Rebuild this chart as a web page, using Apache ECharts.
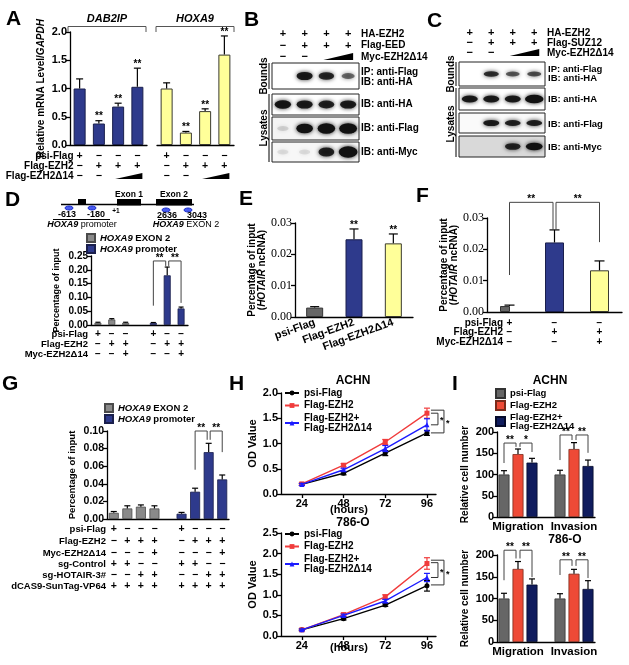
<!DOCTYPE html>
<html><head><meta charset="utf-8">
<script src="https://cdn.jsdelivr.net/npm/echarts@6/dist/echarts.min.js"></script>
<style>html,body{margin:0;padding:0;background:#fff}#c{width:629px;height:665px}</style>
</head><body><div id="c"></div>
<script>
// ================= DATA =================
// Panel A
const aGroups = ['DAB2IP', 'HOXA9'];
const aConds = ['psi', 'EZH2', 'EZH2+d14 low', 'EZH2+d14 high'];
const aDab2ip = [1.00, 0.38, 0.68, 1.03];
const aDab2ipErr = [0.17, 0.05, 0.06, 0.33];
const aHoxa9 = [1.00, 0.22, 0.60, 1.60];
const aHoxa9Err = [0.10, 0.02, 0.04, 0.33];
const aStars = ['', '**', '**', '**'];
const aRowNames = ['psi-Flag', 'Flag-EZH2', 'Flag-EZH2\u039414'];
const aRows = [['+','\u2212','\u2212','\u2212'], ['\u2212','+','+','+'], ['\u2212','\u2212','W','W']];
// Panel B (band intensities, lanes 1-4)
const lanes = ['1','2','3','4'];
const bHeaderNames = ['HA-EZH2', 'Flag-EED', 'Myc-EZH2\u039414'];
const bHeader = [['+','+','+','+'], ['\u2212','+','+','+'], ['\u2212','\u2212','W','W']];
const bBounds = [0, 0.85, 0.75, 0.35];
const bHA = [0.9, 0.85, 0.8, 0.85];
const bFlag = [0.04, 0.95, 1.1, 1.15];
const bMyc = [0.03, 0.03, 0.8, 1.3];
// Panel C
const cHeaderNames = ['HA-EZH2', 'Flag-SUZ12', 'Myc-EZH2\u039414'];
const cHeader = [['+','+','+','+'], ['\u2212','+','+','+'], ['\u2212','\u2212','W','W']];
const cBounds = [0, 0.7, 0.45, 0.5];
const cHA = [0.85, 0.85, 0.85, 1.25];
const cFlag = [0, 0.85, 0.8, 0.8];
const cMyc = [0, 0, 0.75, 0.95];
// Panel D
const dLegend = ['HOXA9 EXON 2', 'HOXA9 promoter'];
const dExon2 = [0.008, 0.020, 0.008];
const dExon2Err = [0.002, 0.003, 0.002];
const dPromoter = [0.008, 0.180, 0.060];
const dPromoterErr = [0.001, 0.030, 0.005];
const dRowNames = ['psi-Flag', 'Flag-EZH2', 'Myc-EZH2\u039414'];
const dRows = [['+','\u2212','\u2212','+','\u2212','\u2212'], ['\u2212','+','+','\u2212','+','+'], ['\u2212','\u2212','+','\u2212','\u2212','+']];
// Panel E
const eCats = ['psi-Flag', 'Flag-EZH2', 'Flag-EZH2\u039414'];
const eVals = [0.0030, 0.0248, 0.0235];
const eErr = [0.0003, 0.0033, 0.0030];
const eStars = ['', '**', '**'];
// Panel F
const fCats = ['psi-Flag', 'Flag-EZH2', 'Flag-EZH2+Myc-EZH2\u039414'];
const fVals = [0.0019, 0.0222, 0.0133];
const fErr = [0.0003, 0.0040, 0.0030];
const fRowNames = ['psi-Flag', 'Flag-EZH2', 'Myc-EZH2\u039414'];
const fRows = [['+','\u2212','\u2212'], ['\u2212','+','+'], ['\u2212','\u2212','+']];
// Panel G
const gLegend = ['HOXA9 EXON 2', 'HOXA9 promoter'];
const gExon2 = [0.007, 0.012, 0.014, 0.012];
const gExon2Err = [0.0015, 0.003, 0.002, 0.003];
const gPromoter = [0.006, 0.031, 0.076, 0.045];
const gPromoterErr = [0.0015, 0.004, 0.010, 0.005];
const gRowNames = ['psi-Flag', 'Flag-EZH2', 'Myc-EZH2\u039414', 'sg-Control', 'sg-HOTAIR-3#', 'dCAS9-SunTag-VP64'];
const gRows = [
  ['+','\u2212','\u2212','\u2212','+','\u2212','\u2212','\u2212'],
  ['\u2212','+','+','+','\u2212','+','+','+'],
  ['\u2212','\u2212','\u2212','+','\u2212','\u2212','\u2212','+'],
  ['+','+','\u2212','\u2212','+','+','\u2212','\u2212'],
  ['\u2212','\u2212','+','+','\u2212','\u2212','+','+'],
  ['+','+','+','+','+','+','+','+']];
// Panel H
const hHours = [24, 48, 72, 96];
const hNames = ['psi-Flag', 'Flag-EZH2', 'Flag-EZH2+\nFlag-EZH2\u039414'];
const hAchnPsi = [0.19, 0.41, 0.81, 1.21];
const hAchnPsiErr = [0.02, 0.03, 0.05, 0.05];
const hAchnEzh2 = [0.20, 0.57, 1.03, 1.60];
const hAchnEzh2Err = [0.02, 0.03, 0.05, 0.10];
const hAchnCombo = [0.19, 0.48, 0.90, 1.37];
const hAchnComboErr = [0.02, 0.03, 0.06, 0.12];
const h786Psi = [0.15, 0.42, 0.75, 1.22];
const h786PsiErr = [0.02, 0.03, 0.03, 0.13];
const h786Ezh2 = [0.15, 0.52, 0.95, 1.76];
const h786Ezh2Err = [0.02, 0.03, 0.05, 0.14];
const h786Combo = [0.15, 0.50, 0.85, 1.42];
const h786ComboErr = [0.02, 0.03, 0.04, 0.10];
// Panel I
const iGroups = ['Migration', 'Invasion'];
const iNames = ['psi-Flag', 'Flag-EZH2', 'Flag-EZH2+\nFlag-EZH2\u039414'];
const iAchnPsi = [100, 100], iAchnPsiErr = [9, 10];
const iAchnEzh2 = [148, 160], iAchnEzh2Err = [12, 15];
const iAchnCombo = [128, 120], iAchnComboErr = [10, 14];
const i786Psi = [100, 100], i786PsiErr = [12, 11];
const i786Ezh2 = [168, 157], i786Ezh2Err = [17, 10];
const i786Combo = [132, 122], i786ComboErr = [13, 19];

// ================= STYLE =================
const FONT = '"Liberation Sans", Arial, Helvetica, sans-serif';
const SERIF = '"Liberation Serif", "Times New Roman", serif';
const NAVY = '#2e3a8c', NAVY_E = '#1a1f4c';
const YEL = '#ffff99', YEL_E = '#3a3a30';
const GRAY = '#8a8a8a', GRAY_E = '#4a4a4a';
const DGRAY = '#666666';
const RED = '#ee4a36', INAVY = '#101c5e';
const HBLACK = '#000000', HRED = '#f03c3c', HBLUE = '#1c1cff';
const LS = {color:'#000', width:1.3};
const ITAL = {fontStyle:'italic', fontWeight:'bold', fontFamily:FONT, color:'#000'};

const grids = [], xAxes = [], yAxes = [], series = [], legends = [];
function addPanel(rect, xa, ya) {
  const i = grids.length;
  grids.push(Object.assign({show:false}, rect));
  xa.gridIndex = i; ya.gridIndex = i; xAxes.push(xa); yAxes.push(ya); return i;
}
function yVal(min, max, interval, dec, o) {
  o = o || {};
  return {type:'value', min, max, interval,
    axisLine:{show:true, lineStyle:LS}, axisTick:{show:true, length:4, lineStyle:LS}, splitLine:{show:false},
    axisLabel:{color:'#000', fontFamily:o.family||FONT, fontWeight:o.weight||'bold', fontSize:o.size||11, margin:3, formatter:v=>v.toFixed(dec)},
    name:o.name||'', nameLocation:'middle', nameGap:o.gap||25,
    nameTextStyle:{color:'#000', fontFamily:FONT, fontWeight:'bold', fontSize:o.nsize||11, lineHeight:o.nlh||12,
      rich:{i:Object.assign({fontSize:o.nsize||11}, ITAL)}}};
}
function xCat(cats, label) {
  return {type:'category', data:cats, axisLine:{show:true, lineStyle:LS}, axisTick:{show:false},
    axisLabel:Object.assign({show:false}, label||{}), splitLine:{show:false}};
}
// slot layout for grouped bars with a gap slot between groups
function slotCats(groups, n) { const c=[]; groups.forEach((g,gi)=>{ if(gi) c.push('gap'+gi); for(let k=0;k<n;k++) c.push(g+'#'+k); }); return c; }
function slotOf(g, k, n) { return g*(n+1)+k; }
function slotArr(len, pairs) { const a = new Array(len).fill('-'); pairs.forEach(p=>{a[p[0]]=p[1];}); return a; }

function errSeries(ai, items, o) {
  o = o || {};
  return {type:'custom', xAxisIndex:ai, yAxisIndex:ai, silent:true, clip:false, z:5,
    data: items.map(it=>[it.x, it.v, it.e]),
    renderItem: function(p, api) {
      const it = items[p.dataIndex];
      const c = api.coord([it.x, it.v]), t = api.coord([it.x, it.v+it.e]);
      const b = o.both ? api.coord([it.x, it.v-it.e]) : c;
      const w = (o.cap||6)/2, col = it.color||o.color||'#000', lw = o.lw||1.2;
      const ch = [
        {type:'line', shape:{x1:t[0],y1:t[1],x2:b[0],y2:b[1]}, style:{stroke:col,lineWidth:lw}},
        {type:'line', shape:{x1:t[0]-w,y1:t[1],x2:t[0]+w,y2:t[1]}, style:{stroke:col,lineWidth:lw}}];
      if (o.both) ch.push({type:'line', shape:{x1:b[0]-w,y1:b[1],x2:b[0]+w,y2:b[1]}, style:{stroke:col,lineWidth:lw}});
      if (it.star) ch.push({type:'text', style:{text:it.star, x:t[0], y:t[1]+1, align:'center', verticalAlign:'bottom', textAlign:'center', textVerticalAlign:'bottom', font:'bold 10px '+FONT, fill:'#000'}});
      return {type:'group', children:ch};
    }};
}
function bracketSeries(ai, items) {
  return {type:'custom', xAxisIndex:ai, yAxisIndex:ai, silent:true, clip:false, z:6,
    data: items.map(it=>[it.a, it.top]),
    renderItem: function(p, api) {
      const it = items[p.dataIndex];
      const A = api.coord([it.a, it.top]), B = api.coord([it.b, it.top]);
      const Ad = api.coord([it.a, it.da]), Bd = api.coord([it.b, it.db]);
      const xa = A[0]+(it.sa||0), xb = B[0]+(it.sb||0);
      return {type:'group', children:[
        {type:'polyline', shape:{points:[[xa,Ad[1]],[xa,A[1]],[xb,A[1]],[xb,Bd[1]]]}, style:{stroke:'#444', lineWidth:1, fill:'none'}},
        {type:'text', style:{text:it.text, x:(xa+xb)/2, y:A[1]+2, align:'center', verticalAlign:'bottom', textAlign:'center', textVerticalAlign:'bottom', font:'bold 10px '+FONT, fill:'#000'}}]};
    }};
}
function vBracketSeries(ai, items) {
  return {type:'custom', xAxisIndex:ai, yAxisIndex:ai, silent:true, clip:false, z:6,
    data: items.map(it=>[it.x, it.y1]),
    renderItem: function(p, api) {
      const it = items[p.dataIndex];
      const a = api.coord([it.x, it.y1]), b = api.coord([it.x, it.y2]);
      const x0 = a[0]+it.o0, x1 = a[0]+it.o1;
      return {type:'group', children:[
        {type:'polyline', shape:{points:[[x0,a[1]],[x1,a[1]],[x1,b[1]],[x0,b[1]]]}, style:{stroke:'#333', lineWidth:1, fill:'none'}},
        {type:'text', style:{text:it.text, x:x1+2, y:(a[1]+b[1])/2+2, align:'left', verticalAlign:'middle', textAlign:'left', textVerticalAlign:'middle', font:'bold 9px '+FONT, fill:'#000'}}]};
    }};
}
function blotPanel(rect, bands, bg, bandH) {
  const i = addPanel(Object.assign({borderColor:'#222', borderWidth:1, backgroundColor:bg||'#fff'}, rect),
    {type:'category', data:lanes, show:false, boundaryGap:true}, {type:'value', min:0, max:1, show:false});
  grids[i].show = true;
  series.push({type:'scatter', xAxisIndex:i, yAxisIndex:i, silent:true, symbol:'circle', z:3,
    itemStyle:{color:'#111', shadowBlur:4, shadowColor:'rgba(0,0,0,0.85)'},
    data: bands.map((v,k)=>({value:[k, 0.5], symbolSize:[11+6*Math.min(v,1.3), bandH*(0.55+0.55*v)],
      itemStyle:{opacity: v < 0.1 ? v*3 : Math.min(1, 0.25+0.8*v)}}))});
  return i;
}
const nameFmt = n => n.replace(/^[A-Z0-9]+:/, '');
const legText = (sz, lh) => ({color:'#000', fontFamily:FONT, fontWeight:'bold', fontSize:sz, lineHeight:lh||sz+1,
  rich:{i:Object.assign({fontSize:sz, lineHeight:lh||sz+1}, ITAL)}});

// ================= PANEL A =================
const iA1 = addPanel({left:70, top:32, width:77, height:113}, xCat(aConds),
  yVal(0, 2, 0.5, 1, {name:'Relative mRNA Level/{i|GAPDH}', gap:23, nsize:10}));
const iA2 = addPanel({left:157, top:32, width:77, height:113}, xCat(aConds), Object.assign(yVal(0, 2, 0.5, 1), {show:false}));
series.push({type:'bar', xAxisIndex:iA1, yAxisIndex:iA1, data:aDab2ip, barWidth:12, silent:true,
  itemStyle:{color:NAVY, borderColor:NAVY_E, borderWidth:1}});
series.push(errSeries(iA1, aDab2ip.map((v,k)=>({x:k, v, e:aDab2ipErr[k], star:aStars[k]})), {cap:7}));
series.push({type:'bar', xAxisIndex:iA2, yAxisIndex:iA2, data:aHoxa9, barWidth:12, silent:true,
  itemStyle:{color:YEL, borderColor:YEL_E, borderWidth:1}});
series.push(errSeries(iA2, aHoxa9.map((v,k)=>({x:k, v, e:aHoxa9Err[k], star:aStars[k]})), {cap:7}));

// ================= PANEL B / C (blots) =================
const iB1 = blotPanel({left:272, top:63, width:87, height:26}, bBounds, '#fff', 8);
const iB2 = blotPanel({left:272, top:94, width:87, height:21}, bHA, '#fff', 8);
const iB3 = blotPanel({left:272, top:117, width:87, height:23}, bFlag, '#f4f4f4', 9);
const iB4 = blotPanel({left:272, top:142, width:87, height:20}, bMyc, '#f7f7f7', 9);
const iC1 = blotPanel({left:459, top:62, width:86, height:24}, cBounds, '#fff', 6);
const iC2 = blotPanel({left:459, top:88, width:86, height:22}, cHA, '#fff', 7);
const iC3 = blotPanel({left:459, top:113, width:86, height:20}, cFlag, '#fafafa', 6);
const iC4 = blotPanel({left:459, top:136, width:86, height:21}, cMyc, '#d9d9d9', 7);

// ================= PANEL D =================
const dCats = slotCats(['exon2','promoter'], 3);
const iD = addPanel({left:91, top:256, width:97, height:69}, xCat(dCats),
  yVal(0, 0.25, 0.05, 2, {name:'Percentage of input', gap:28, nsize:9, size:10}));
series.push({type:'bar', name:'D:'+dLegend[0], xAxisIndex:iD, yAxisIndex:iD, barWidth:7, barGap:'-100%', silent:true,
  data: slotArr(dCats.length, dExon2.map((v,k)=>[slotOf(0,k,3), v])), itemStyle:{color:GRAY, borderColor:GRAY_E, borderWidth:0.8}});
series.push({type:'bar', name:'D:'+dLegend[1], xAxisIndex:iD, yAxisIndex:iD, barWidth:7, barGap:'-100%', silent:true,
  data: slotArr(dCats.length, dPromoter.map((v,k)=>[slotOf(1,k,3), v])), itemStyle:{color:NAVY, borderColor:NAVY_E, borderWidth:0.8}});
series.push(errSeries(iD, dExon2.map((v,k)=>({x:slotOf(0,k,3), v, e:dExon2Err[k]})).concat(
  dPromoter.map((v,k)=>({x:slotOf(1,k,3), v, e:dPromoterErr[k]}))), {cap:5}));
series.push(bracketSeries(iD, [
  {a:4, b:5, top:0.232, da:0.07, db:0.214, sb:-1.5, text:'**'},
  {a:5, b:6, top:0.232, da:0.214, db:0.08, sa:1.5, text:'**'}]));
legends.push({data:dLegend.map(n=>'D:'+n), orient:'vertical', left:86, top:233, itemWidth:8, itemHeight:8, itemGap:1,
  icon:'rect', selectedMode:false, padding:0, formatter:n=>'{i|HOXA9} '+nameFmt(n).replace('HOXA9 ',''), textStyle:legText(9.5, 10)});

// ================= PANEL E =================
const iE = addPanel({left:295, top:223, width:118, height:94},
  xCat(eCats, {show:true, interval:0, rotate:20, color:'#000', fontFamily:FONT, fontWeight:'bold', fontSize:11, margin:5}),
  yVal(0, 0.03, 0.01, 2, {family:SERIF, weight:'normal', size:12, name:'Percentage of input\n({i|HOTAIR} ncRNA)', gap:27, nsize:10, nlh:10}));
const eColors = [[DGRAY,'#333'], [NAVY,NAVY_E], [YEL,YEL_E]];
series.push({type:'bar', xAxisIndex:iE, yAxisIndex:iE, barWidth:17, silent:true,
  data: eVals.map((v,k)=>({value:v, itemStyle:{color:eColors[k][0], borderColor:eColors[k][1], borderWidth:1}}))});
series.push(errSeries(iE, eVals.map((v,k)=>({x:k, v, e:eErr[k], star:eStars[k]})), {cap:9}));

// ================= PANEL F =================
const iF = addPanel({left:487, top:218, width:135, height:94}, xCat(fCats),
  yVal(0, 0.03, 0.01, 2, {family:SERIF, weight:'normal', size:12, name:'Percentage of input\n({i|HOTAIR} ncRNA)', gap:20, nsize:10, nlh:10}));
series.push({type:'bar', xAxisIndex:iF, yAxisIndex:iF, barWidth:10, barGap:'-100%', silent:true,
  data: [{value:fVals[0], itemStyle:{color:DGRAY, borderColor:'#333', borderWidth:1}}, '-', '-']});
series.push({type:'bar', xAxisIndex:iF, yAxisIndex:iF, barWidth:19, barGap:'-100%', silent:true,
  data: ['-', {value:fVals[1], itemStyle:{color:NAVY, borderColor:NAVY_E, borderWidth:1}},
              {value:fVals[2], itemStyle:{color:YEL, borderColor:YEL_E, borderWidth:1}}]});
series.push(errSeries(iF, fVals.map((v,k)=>({x:k, v, e:fErr[k]})), {cap:10}));
series.push(bracketSeries(iF, [
  {a:0, b:1, top:0.035, da:0.0118, db:0.0262, sb:-1.5, text:'**'},
  {a:1, b:2, top:0.035, da:0.0262, db:0.0223, sa:1.5, text:'**'}]));

// ================= PANEL G =================
const gCats = slotCats(['exon2','promoter'], 4);
const iG = addPanel({left:107, top:431, width:122, height:88}, xCat(gCats),
  yVal(0, 0.10, 0.02, 2, {name:'Percentage of input', gap:29, nsize:9.5, size:10.5}));
series.push({type:'bar', name:'G:'+gLegend[0], xAxisIndex:iG, yAxisIndex:iG, barWidth:10, barGap:'-100%', silent:true,
  data: slotArr(gCats.length, gExon2.map((v,k)=>[slotOf(0,k,4), v])), itemStyle:{color:GRAY, borderColor:GRAY_E, borderWidth:0.8}});
series.push({type:'bar', name:'G:'+gLegend[1], xAxisIndex:iG, yAxisIndex:iG, barWidth:10, barGap:'-100%', silent:true,
  data: slotArr(gCats.length, gPromoter.map((v,k)=>[slotOf(1,k,4), v])), itemStyle:{color:NAVY, borderColor:NAVY_E, borderWidth:0.8}});
series.push(errSeries(iG, gExon2.map((v,k)=>({x:slotOf(0,k,4), v, e:gExon2Err[k]})).concat(
  gPromoter.map((v,k)=>({x:slotOf(1,k,4), v, e:gPromoterErr[k]}))), {cap:6}));
series.push(bracketSeries(iG, [
  {a:6, b:7, top:0.10, da:0.056, db:0.09, sb:-1.5, text:'**'},
  {a:7, b:8, top:0.10, da:0.09, db:0.076, sa:1.5, text:'**'}]));
legends.push({data:gLegend.map(n=>'G:'+n), orient:'vertical', left:104, top:403, itemWidth:8, itemHeight:8, itemGap:1,
  icon:'rect', selectedMode:false, padding:0, formatter:n=>'{i|HOXA9} '+nameFmt(n).replace('HOXA9 ',''), textStyle:legText(9.5, 10)});

// ================= PANEL H =================
function hPanel(rect, ymax, sets, prefix, legTop, brackets) {
  const i = addPanel(rect,
    {type:'value', min:12, max:101.2, axisLine:{show:true, lineStyle:LS}, splitLine:{show:false},
     axisTick:{show:true, length:4, lineStyle:LS, customValues:hHours},
     axisLabel:{color:'#000', fontFamily:FONT, fontWeight:'bold', fontSize:11, margin:4, customValues:hHours}},
    yVal(0, ymax, 0.5, 1, {name:'OD Value', gap:22, nsize:11}));
  const cols = [HBLACK, HRED, HBLUE], syms = ['circle', 'rect', 'triangle'];
  sets.forEach((s,k)=>{
    series.push({type:'line', name:prefix+hNames[k], xAxisIndex:i, yAxisIndex:i, silent:true, z:3+k,
      data:hHours.map((h,j)=>[h, s[0][j]]), symbol:syms[k], symbolSize:5, showSymbol:true,
      lineStyle:{color:cols[k], width:1.4}, itemStyle:{color:cols[k]}});
    series.push(errSeries(i, hHours.map((h,j)=>({x:h, v:s[0][j], e:s[1][j], color:cols[k]})), {both:true, cap:6}));
  });
  series.push(vBracketSeries(i, brackets));
  legends.push({data:hNames.map(n=>prefix+n), orient:'vertical', left:284, top:legTop, itemWidth:14, itemHeight:6, itemGap:2.5,
    selectedMode:false, padding:0, formatter:nameFmt, textStyle:legText(10, 10)});
  return i;
}
const iH1 = hPanel({left:281, top:393, width:155, height:101}, 2.0,
  [[hAchnPsi,hAchnPsiErr],[hAchnEzh2,hAchnEzh2Err],[hAchnCombo,hAchnComboErr]], 'H1:', 388,
  [{x:96, y1:1.60, y2:1.37, o0:4, o1:11, text:'*'}, {x:96, y1:1.66, y2:1.21, o0:4, o1:17, text:'*'}]);
const iH2 = hPanel({left:281, top:533, width:155, height:103}, 2.5,
  [[h786Psi,h786PsiErr],[h786Ezh2,h786Ezh2Err],[h786Combo,h786ComboErr]], 'H2:', 529,
  [{x:96, y1:1.78, y2:1.42, o0:4, o1:11, text:'*'}, {x:96, y1:1.84, y2:1.24, o0:4, o1:17, text:'*'}]);

// ================= PANEL I =================
const iCats = slotCats(iGroups, 3);
function iPanel(rect, sets, prefix, brackets, withLegend) {
  const i = addPanel(rect,
    xCat(iCats, {show:true, interval:0, color:'#000', fontFamily:FONT, fontWeight:'bold', fontSize:11.5, margin:4,
      formatter:(v, idx)=>{ const g = Math.floor(idx/4); return (idx % 4 === 1) ? iGroups[g] : ''; }}),
    yVal(0, 200, 50, 0, {name:'Relative cell number', gap:25, nsize:10}));
  const cols = [[DGRAY,'#333'], [RED,'#7a2a1a'], [INAVY,'#050a2a']];
  const errItems = [];
  sets.forEach((s,k)=>{
    series.push({type:'bar', name:prefix+iNames[k], xAxisIndex:i, yAxisIndex:i, barWidth:11, barGap:'-100%', silent:true,
      data: slotArr(iCats.length, s[0].map((v,g)=>[slotOf(g,k,3), v])), itemStyle:{color:cols[k][0], borderColor:cols[k][1], borderWidth:0.8}});
    s[0].forEach((v,g)=>errItems.push({x:slotOf(g,k,3), v, e:s[1][g]}));
  });
  series.push(errSeries(i, errItems, {cap:6}));
  series.push(bracketSeries(i, brackets));
  if (withLegend) legends.push({data:iNames.map(n=>prefix+n), orient:'vertical', left:495, top:388, itemWidth:9, itemHeight:9, itemGap:1,
    icon:'rect', selectedMode:false, padding:0, formatter:nameFmt, textStyle:legText(9.5, 9)});
  return i;
}
const iI1 = iPanel({left:497, top:432, width:98, height:85},
  [[iAchnPsi,iAchnPsiErr],[iAchnEzh2,iAchnEzh2Err],[iAchnCombo,iAchnComboErr]], 'I:',
  [{a:0,b:1,top:174,da:127,db:165,sb:-2,text:'**'},{a:1,b:2,top:174,da:165,db:153,sa:2,text:'*'},
   {a:4,b:5,top:193,da:134,db:181,sb:-2,text:'**'},{a:5,b:6,top:193,da:181,db:151,sa:2,text:'**'}], true);
const iI2 = iPanel({left:497, top:555, width:98, height:87},
  [[i786Psi,i786PsiErr],[i786Ezh2,i786Ezh2Err],[i786Combo,i786ComboErr]], 'I2:',
  [{a:0,b:1,top:211,da:142,db:192,sb:-2,text:'**'},{a:1,b:2,top:211,da:192,db:149,sa:2,text:'**'},
   {a:4,b:5,top:189,da:154,db:175,sb:-2,text:'**'},{a:5,b:6,top:189,da:175,db:147,sa:2,text:'**'}], false);

// ================= RENDER =================
const chart = echarts.init(document.getElementById('c'), null, {renderer:'canvas', width:629, height:665});
chart.setOption({animation:false, backgroundColor:'#fff', textStyle:{fontFamily:FONT},
  grid:grids, xAxis:xAxes, yAxis:yAxes, series:series, legend:legends});

// ---------- annotations (text, sign tables, schematic) ----------
const G = [];
function T(text, x, y, o) {
  o = o || {};
  const el = {type:'text', silent:true, z:100, x:x, y:y, rotation:o.rot||0,
    style:{text:text, x:0, y:0, font:o.font||('bold 11px '+FONT), fill:o.fill||'#000',
      align:o.align||'left', verticalAlign:o.va||'middle', textAlign:o.align||'left', textVerticalAlign:o.va||'middle'}};
  if (o.rich) el.style.rich = o.rich;
  G.push(el);
}
function L(x1,y1,x2,y2,w,c) { G.push({type:'line', silent:true, z:100, shape:{x1,y1,x2,y2}, style:{stroke:c||'#000', lineWidth:w||1}}); }
function PL(pts,w,c) { G.push({type:'polyline', silent:true, z:100, shape:{points:pts}, style:{stroke:c||'#000', lineWidth:w||1, fill:'none'}}); }
function PG(pts,c) { G.push({type:'polygon', silent:true, z:100, shape:{points:pts}, style:{fill:c||'#000'}}); }
function R(x,y,w,h,c) { G.push({type:'rect', silent:true, z:100, shape:{x,y,width:w,height:h}, style:{fill:c||'#000'}}); }
function EL(cx,cy,rx,ry) { G.push({type:'ellipse', silent:true, z:100, shape:{cx,cy,rx,ry}, style:{fill:'#4a5cf0', stroke:'#1226c8', lineWidth:1}}); }
const px = (ai, v) => chart.convertToPixel({xAxisIndex:ai}, v);
function signRows(ai, slots, rows, ys, font, wedgeH) {
  rows.forEach((r, ri) => {
    const y = ys[ri]; const w = [];
    r.forEach((s, k) => {
      const x = px(ai, slots[k]);
      if (s === 'W') w.push(x); else T(s, x, y, {align:'center', font:font});
    });
    if (w.length) { const x0 = w[0]-3, x1 = w[w.length-1]+5; PG([[x0, y+3], [x1, y+3], [x1, y+3-wedgeH]]); }
  });
}
function rowLabels(names, ys, x, font) { names.forEach((n,k)=>T(n, x, ys[k], {align:'right', font:font})); }
const rich9 = sz => ({i:{fontStyle:'italic', fontWeight:'bold', fontFamily:FONT, fontSize:sz, fill:'#000', color:'#000'}});

// panel letters
[['A',6,19],['B',244,20],['C',427,21],['D',5,200],['E',239,199],['F',416,196.5],['G',2,384],['H',229,384],['I',452,384]]
  .forEach(l=>T(l[0], l[1], l[2], {font:'bold 21px '+FONT}));

// A
PL([[68,32],[68,26.5],[146,26.5],[146,32]], 1, '#555');
PL([[156,32],[156,26.5],[234,26.5],[234,32]], 1, '#555');
T('{i|'+aGroups[0]+'}', 107, 19, {align:'center', font:'bold 11px '+FONT, rich:rich9(11)});
T('{i|'+aGroups[1]+'}', 195, 19, {align:'center', font:'bold 11px '+FONT, rich:rich9(11)});
const aYs = [156, 166, 176];
rowLabels(aRowNames, aYs, 73.5, 'bold 10px '+FONT);
signRows(iA1, [0,1,2,3], aRows, aYs, 'bold 10.5px '+FONT, 6);
signRows(iA2, [0,1,2,3], aRows, aYs, 'bold 10.5px '+FONT, 6);

// B
const bYs = [34, 45.5, 57];
signRows(iB1, [0,1,2,3], bHeader, bYs, 'bold 11px '+FONT, 7);
bHeaderNames.forEach((n,k)=>T(n, 361, bYs[k], {font:'bold 10px '+FONT}));
[['IP: anti-Flag',72],['IB: anti-HA',82.5],['IB: anti-HA',104.5],['IB: anti-Flag',128.5],['IB: anti-Myc',152]]
  .forEach(t=>T(t[0], 361, t[1], {font:'bold 10px '+FONT}));
T('Bounds', 264, 76, {rot:Math.PI/2, align:'center', font:'bold 10px '+FONT});
T('Lysates', 264, 128, {rot:Math.PI/2, align:'center', font:'bold 10px '+FONT});
L(269, 63, 269, 89, 1); L(269, 94, 269, 162, 1);

// C
const cYs = [33, 43, 53];
signRows(iC1, [0,1,2,3], cHeader, cYs, 'bold 11px '+FONT, 7);
cHeaderNames.forEach((n,k)=>T(n, 547, cYs[k], {font:'bold 10px '+FONT}));
[['IP: anti-Flag',69],['IB: anti-HA',78.5],['IB: anti-HA',99],['IB: anti-Flag',124],['IB: anti-Myc',147]]
  .forEach(t=>T(t[0], 548, t[1], {font:'bold 9.5px '+FONT}));
T('Bounds', 451, 74, {rot:Math.PI/2, align:'center', font:'bold 10px '+FONT});
T('Lysates', 451, 124, {rot:Math.PI/2, align:'center', font:'bold 10px '+FONT});
L(456, 62, 456, 86, 1); L(456, 88, 456, 157, 1);

// D schematic
L(61, 204.5, 194, 204.5, 1.5);
R(78, 199, 8, 5.5); R(117, 199, 24, 6.5); R(156, 199, 36, 6.5);
T('Exon 1', 129, 195, {align:'center', font:'bold 8.5px '+FONT});
T('Exon 2', 174, 195, {align:'center', font:'bold 8.5px '+FONT});
T('+1', 116, 211.5, {align:'center', font:'bold 6.5px '+FONT});
EL(69, 208, 4, 2); EL(92, 208, 4, 2); EL(166, 210, 4, 2); EL(188, 210, 4, 2);
T('-613', 67, 215, {align:'center', font:'bold 9px '+FONT}); T('-180', 96, 215, {align:'center', font:'bold 9px '+FONT});
T('2636', 167, 215.5, {align:'center', font:'bold 9px '+FONT}); T('3043', 197, 215.5, {align:'center', font:'bold 9px '+FONT});
L(53, 219.5, 110, 219.5, 1); L(158, 219.5, 206, 219.5, 1);
T('{i|HOXA9} promoter', 82, 225, {align:'center', font:'9px '+FONT, rich:rich9(9)});
T('{i|HOXA9} EXON 2', 186, 225, {align:'center', font:'9px '+FONT, rich:rich9(9)});
const dYs = [334, 344, 354];
rowLabels(dRowNames, dYs, 88, 'bold 9.5px '+FONT);
signRows(iD, [0,1,2,4,5,6], dRows, dYs, 'bold 10px '+FONT, 6);

// F
const fYs = [323, 332.5, 342];
rowLabels(fRowNames, fYs, 503, 'bold 10px '+FONT);
signRows(iF, [0,1,2], fRows, fYs, 'bold 10px '+FONT, 6);

// G
const gYs = [529, 541, 553, 564, 575, 586];
rowLabels(gRowNames, gYs, 106, 'bold 9.5px '+FONT);
signRows(iG, [0,1,2,3,5,6,7,8], gRows, gYs, 'bold 10.5px '+FONT, 6);

// H
T('ACHN', 353, 381, {align:'center', font:'bold 12px '+FONT});
T('786-O', 353, 523, {align:'center', font:'bold 12px '+FONT});
T('(hours)', 349, 510, {align:'center', font:'bold 11px '+FONT});
T('(hours)', 349, 648, {align:'center', font:'bold 11px '+FONT});

// I
T('ACHN', 550, 381, {align:'center', font:'bold 12px '+FONT});
T('786-O', 565, 540, {align:'center', font:'bold 12px '+FONT});

chart.setOption({graphic:{elements:G}});
</script>
</body></html>
